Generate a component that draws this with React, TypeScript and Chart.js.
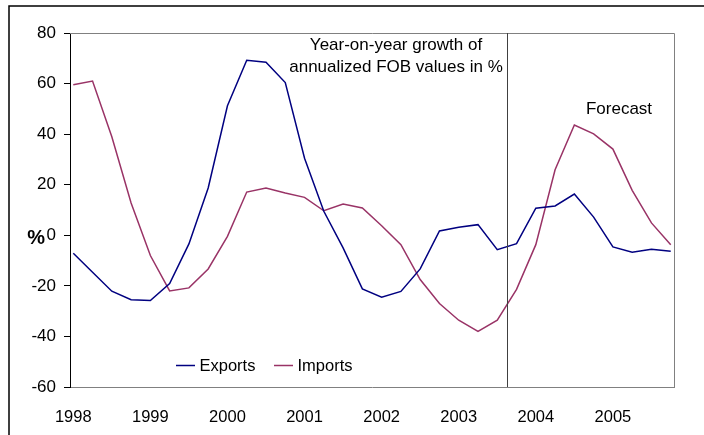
import { useEffect, useRef } from 'react';
import { Chart, registerables } from 'chart.js';

Chart.register(...registerables);

// ---- data -----------------------------------------------------------
const years = ['1998', '1999', '2000', '2001', '2002', '2003', '2004', '2005'];
const quarters = ['Q1', 'Q2', 'Q3', 'Q4'];
const periods = years.flatMap((y) => quarters.map((q) => `${y}${q}`));

// Year-on-year growth of annualized FOB values, in %
const exportsGrowth = [
  -7.1, -14.6, -22.1, -25.5, -25.8, -19.1, -3.4, 18.7,
  51.2, 69.2, 68.4, 60.4, 30.5, 9.5, -5.0, -21.2,
  -24.5, -22.2, -13.3, 1.7, 3.2, 4.2, -5.7, -3.3,
  10.7, 11.6, 16.3, 7.2, -4.6, -6.7, -5.5, -6.3,
];
const importsGrowth = [
  59.5, 61.0, 39.0, 12.8, -8.0, -22.0, -20.8, -13.3,
  -0.4, 17.1, 18.7, 16.7, 15.0, 9.7, 12.4, 10.8,
  3.8, -3.7, -17.5, -27.0, -33.6, -38.0, -33.6, -21.4,
  -3.7, 25.9, 43.6, 40.1, 34.1, 17.8, 4.9, -3.7,
];
const yMin = -60;
const yMax = 80;
const yStep = 20;
// forecast starts between 2003Q3 and 2003Q4
const forecastBoundary = 22.5;

const titleLines = ['Year-on-year growth of', 'annualized FOB values in %'];
const forecastLabel = 'Forecast';
const seriesNames = ['Exports', 'Imports'];
const seriesColors = ['#000080', '#993366'];

const FONT = '"Liberation Sans", Arial, Helvetica, sans-serif';

export default function App() {
  const ref = useRef<HTMLCanvasElement>(null);

  useEffect(() => {
    const canvas = ref.current;
    if (!canvas) return;

    const overlay = {
      id: 'overlay',
      afterDraw(chart: any) {
        const ctx = chart.ctx as CanvasRenderingContext2D;
        const { left, right, top, bottom } = chart.chartArea;
        const xs = chart.scales.x;
        ctx.save();

        // outer chart frame
        ctx.strokeStyle = '#000';
        ctx.lineWidth = 1.5;
        ctx.beginPath();
        ctx.moveTo(9, 440);
        ctx.lineTo(9, 6);
        ctx.lineTo(710, 6);
        ctx.stroke();

        // plot area border (top, right)
        ctx.strokeStyle = '#808080';
        ctx.lineWidth = 1;
        ctx.beginPath();
        ctx.moveTo(left, top + 0.5);
        ctx.lineTo(right + 0.5, top + 0.5);
        ctx.lineTo(right + 0.5, bottom);
        ctx.stroke();

        // forecast boundary
        const fx = Math.round(xs.getPixelForValue(forecastBoundary)) + 0.5;
        ctx.strokeStyle = '#404040';
        ctx.lineWidth = 1;
        ctx.beginPath();
        ctx.moveTo(fx, top);
        ctx.lineTo(fx, bottom);
        ctx.stroke();

        // annotations
        ctx.fillStyle = '#000';
        ctx.textBaseline = 'alphabetic';
        ctx.textAlign = 'center';
        ctx.font = `17px ${FONT}`;
        ctx.fillText(titleLines[0], 396, 49.5);
        ctx.fillText(titleLines[1], 396, 71.5);
        ctx.fillText(forecastLabel, 619, 113.5);

        // axis title "%"
        ctx.textAlign = 'right';
        ctx.font = `bold 20px ${FONT}`;
        ctx.fillText('%', 45, 244);

        // legend
        ctx.font = `16.5px ${FONT}`;
        ctx.textAlign = 'left';
        const legendItems = [
          { x: 176, name: seriesNames[0], color: seriesColors[0] },
          { x: 274, name: seriesNames[1], color: seriesColors[1] },
        ];
        legendItems.forEach((it) => {
          ctx.strokeStyle = it.color;
          ctx.lineWidth = 1.5;
          ctx.beginPath();
          ctx.moveTo(it.x, 365.5);
          ctx.lineTo(it.x + 19, 365.5);
          ctx.stroke();
          ctx.fillStyle = '#000';
          ctx.fillText(it.name, it.x + 23.5, 371);
        });

        ctx.restore();
      },
    };

    const chart = new Chart(canvas, {
      type: 'line',
      data: {
        labels: periods,
        datasets: [
          {
            label: seriesNames[0],
            data: exportsGrowth.map((v, i) => ({ x: i, y: v })),
            borderColor: seriesColors[0],
            backgroundColor: seriesColors[0],
            borderWidth: 1.5,
            pointRadius: 0,
            tension: 0,
            fill: false,
          },
          {
            label: seriesNames[1],
            data: importsGrowth.map((v, i) => ({ x: i, y: v })),
            borderColor: seriesColors[1],
            backgroundColor: seriesColors[1],
            borderWidth: 1.5,
            pointRadius: 0,
            tension: 0,
            fill: false,
          },
        ],
      },
      options: {
        responsive: false,
        animation: false,
        devicePixelRatio: 1,
        layout: { padding: { left: 0, top: 33, right: 30, bottom: 0 } },
        plugins: {
          legend: { display: false },
          tooltip: { enabled: false },
          title: { display: false },
        },
        scales: {
          x: {
            type: 'linear',
            min: -0.17,
            max: periods.length - 1 + 0.17,
            afterBuildTicks: (scale: any) => {
              scale.ticks = years.map((_, k) => ({ value: k * quarters.length }));
            },
            afterFit: (scale: any) => {
              scale.height = 48;
            },
            grid: { display: false },
            border: { display: true, color: '#808080', width: 1 },
            ticks: {
              autoSkip: false,
              maxRotation: 0,
              padding: 13,
              color: '#000',
              font: { family: FONT, size: 16.5 },
              callback: (value: any) => years[Math.round(Number(value) / quarters.length)] ?? '',
            },
          },
          y: {
            min: yMin,
            max: yMax,
            afterFit: (scale: any) => {
              scale.width = 70;
            },
            grid: {
              display: true,
              drawOnChartArea: false,
              drawTicks: true,
              tickLength: 6,
              color: '#000',
            },
            border: { display: true, color: '#000', width: 1 },
            ticks: {
              stepSize: yStep,
              padding: 8,
              color: '#000',
              font: { family: FONT, size: 17 },
            },
          },
        },
      },
      plugins: [overlay],
    });

    return () => chart.destroy();
  }, []);

  return (
    <div
      style={{
        position: 'fixed',
        left: 0,
        top: 0,
        width: 704,
        height: 435,
        background: '#fff',
        overflow: 'hidden',
      }}
    >
      <canvas ref={ref} width={704} height={435} style={{ display: 'block', width: 704, height: 435 }} />
    </div>
  );
}
